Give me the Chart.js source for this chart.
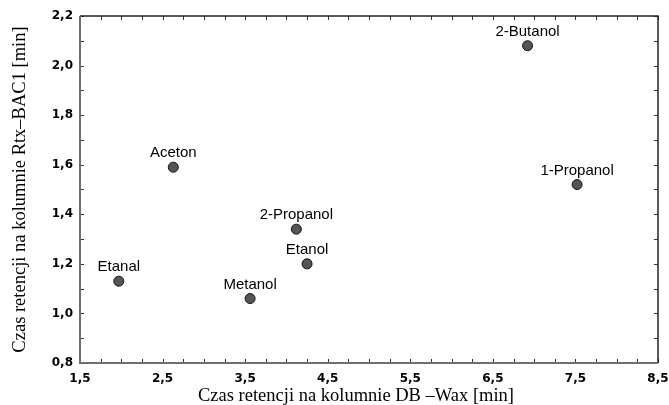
<!DOCTYPE html>
<html>
<head>
<meta charset="utf-8">
<script src="https://cdn.jsdelivr.net/npm/chart.js@4/dist/chart.umd.min.js"></script>
<style>
  html, body { margin: 0; padding: 0; background: #fff; }
  canvas { display: block; }
</style>
</head>
<body>
<canvas id="chart" width="669" height="405"></canvas>
<script>
// Dane
const compounds = ['Etanal', 'Aceton', 'Metanol', '2-Propanol', 'Etanol', '2-Butanol', '1-Propanol'];
const dbWax = [1.97, 2.63, 3.56, 4.12, 4.25, 6.92, 7.52];
const rtxBac1 = [1.13, 1.59, 1.06, 1.34, 1.20, 2.08, 1.52];
const xTicks = [1.5, 2.5, 3.5, 4.5, 5.5, 6.5, 7.5, 8.5];
const yTicks = [0.8, 1.0, 1.2, 1.4, 1.6, 1.8, 2.0, 2.2];
const xMinorStep = 0.25;
const yMinorStep = 0.1;
const xTitle = 'Czas retencji na kolumnie DB –Wax [min]';
const yTitle = 'Czas retencji na kolumnie Rtx–BAC1 [min]';

const fmt = v => Number(v).toFixed(1).replace('.', ',');

// ramka i znaczniki skierowane do środka
const framePlugin = {
    id: 'frame',
    beforeDatasetsDraw(chart) {
        const { ctx, chartArea: a, scales } = chart;
        ctx.save();
        ctx.strokeStyle = '#333';
        ctx.lineWidth = 1;
        // znaczniki osi X (dół i góra)
        for (let v = xTicks[0]; v <= xTicks[xTicks.length - 1] + 1e-9; v += xMinorStep) {
            const px = Math.round(scales.x.getPixelForValue(v)) + 0.5;
            ctx.beginPath();
            ctx.moveTo(px, a.bottom); ctx.lineTo(px, a.bottom - 4);
            ctx.moveTo(px, a.top); ctx.lineTo(px, a.top + 4);
            ctx.stroke();
        }
        // znaczniki osi Y (lewa i prawa)
        for (let v = yTicks[0]; v <= yTicks[yTicks.length - 1] + 1e-9; v += yMinorStep) {
            const py = Math.round(scales.y.getPixelForValue(v)) + 0.5;
            ctx.beginPath();
            ctx.moveTo(a.left, py); ctx.lineTo(a.left + 4, py);
            ctx.moveTo(a.right, py); ctx.lineTo(a.right - 4, py);
            ctx.stroke();
        }
        // górna i prawa krawędź
        ctx.strokeStyle = '#222';
        ctx.lineWidth = 1.5;
        ctx.beginPath();
        ctx.moveTo(a.left, a.top); ctx.lineTo(a.right, a.top); ctx.lineTo(a.right, a.bottom);
        ctx.stroke();
        // lewa i dolna oś
        ctx.strokeStyle = '#6e6e6e';
        ctx.lineWidth = 2;
        ctx.beginPath();
        ctx.moveTo(a.left, a.top); ctx.lineTo(a.left, a.bottom); ctx.lineTo(a.right, a.bottom);
        ctx.stroke();
        ctx.restore();
    }
};

// podpisy punktów i tytuł osi X
const labelPlugin = {
    id: 'pointLabels',
    afterDatasetsDraw(chart) {
        const { ctx } = chart;
        const meta = chart.getDatasetMeta(0);
        ctx.save();
        ctx.font = '15px "Liberation Sans", Arial, sans-serif';
        ctx.fillStyle = '#000';
        ctx.textAlign = 'center';
        ctx.textBaseline = 'alphabetic';
        meta.data.forEach((el, i) => {
            ctx.fillText(compounds[i], el.x, el.y - 10);
        });
        // tytuł osi X (w oryginale przesunięty nieco w lewo)
        ctx.font = '18.5px "Liberation Serif", "Times New Roman", serif';
        ctx.fillText(xTitle, 356, 401);
        ctx.restore();
    }
};

new Chart(document.getElementById('chart'), {
    type: 'scatter',
    data: {
        datasets: [{
            data: dbWax.map((x, i) => ({ x: x, y: rtxBac1[i] })),
            pointRadius: 5,
            pointBackgroundColor: '#555555',
            pointBorderColor: '#111',
            pointBorderWidth: 1
        }]
    },
    options: {
        responsive: false,
        animation: false,
        layout: { padding: { top: 16, right: 11, left: 0, bottom: 0 } },
        plugins: { legend: { display: false }, tooltip: { enabled: false } },
        scales: {
            x: {
                type: 'linear',
                min: xTicks[0],
                max: xTicks[xTicks.length - 1],
                afterBuildTicks: s => { s.ticks = xTicks.map(v => ({ value: v })); },
                afterFit: s => { s.height = 42; s.paddingLeft = 0; s.paddingRight = 0; },
                grid: { display: false, drawTicks: false },
                border: { display: false },
                ticks: {
                    autoSkip: false,
                    maxRotation: 0,
                    padding: 9,
                    color: '#000',
                    font: { family: '"DejaVu Sans", Verdana, sans-serif', size: 12, weight: 'bold' },
                    callback: v => fmt(v)
                },
                title: { display: false }
            },
            y: {
                type: 'linear',
                min: yTicks[0],
                max: yTicks[yTicks.length - 1],
                afterBuildTicks: s => { s.ticks = yTicks.map(v => ({ value: v })); },
                afterFit: s => { s.width = 80; s.paddingTop = 0; s.paddingBottom = 0; },
                grid: { display: false, drawTicks: false },
                border: { display: false },
                ticks: {
                    autoSkip: false,
                    padding: 7,
                    color: '#000',
                    font: { family: '"DejaVu Sans", Verdana, sans-serif', size: 12, weight: 'bold' },
                    callback: v => fmt(v)
                },
                title: {
                    display: true,
                    text: yTitle,
                    color: '#000',
                    font: { family: '"Liberation Serif", "Times New Roman", serif', size: 18.5 },
                    padding: { top: 9, bottom: 0 }
                }
            }
        }
    },
    plugins: [framePlugin, labelPlugin]
});
</script>
</body>
</html>
